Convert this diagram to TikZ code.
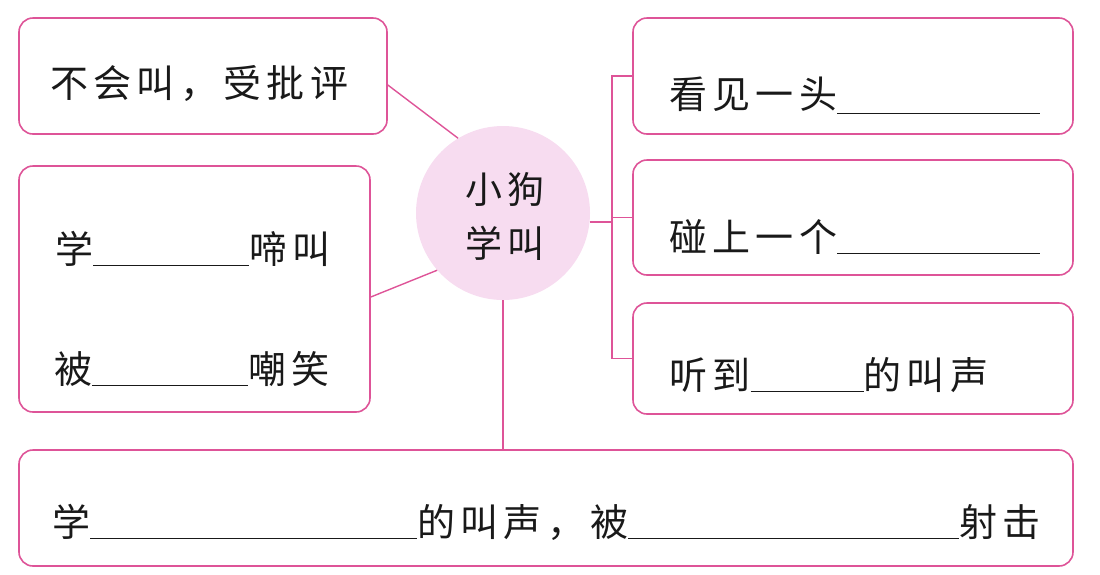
\documentclass[tikz,border=0pt]{standalone}
\usepackage{fontspec}
\newfontfamily\cjk[LetterSpace=14]{Noto Sans CJK SC}
\definecolor{pinkline}{RGB}{222,84,152}
\definecolor{pinkfill}{RGB}{247,220,240}
\definecolor{inkc}{RGB}{25,25,25}
\newcommand{\blk}[2]{\rule[#1]{#2}{1.2pt}}
\tikzset{
  box/.style={draw=pinkline, line width=1.6pt, rounded corners=14pt, inner sep=0pt},
  hub/.style={circle, fill=pinkfill, inner sep=0pt, minimum size=174pt},
  conn/.style={draw=pinkline, line width=1.4pt},
  txt/.style={anchor=base west, inner sep=0pt, text=inkc, font=\cjk\fontsize{38}{44}\selectfont},
  ctxt/.style={anchor=base, inner sep=0pt, text=inkc, font=\cjk\fontsize{37}{44}\selectfont}
}
\begin{document}
\begin{tikzpicture}[x=1pt, y=-1pt]
\useasboundingbox (0,0) rectangle (1100,574);
% boxes
\node[box, minimum width=368pt, minimum height=116pt] (a) at (203,76) {};
\node[box, minimum width=351pt, minimum height=246pt] (b) at (194.5,289) {};
\node[box, minimum width=440pt, minimum height=116pt] (r1) at (853,76) {};
\node[box, minimum width=440pt, minimum height=115pt] (r2) at (853,217.5) {};
\node[box, minimum width=440pt, minimum height=111pt] (r3) at (853,358.5) {};
\node[box, minimum width=1054pt, minimum height=116pt] (d) at (546,508) {};
\node[hub] (c) at (503,213) {};
% connectors
\coordinate (bx) at (612,0);
\coordinate (pa) at ([yshift=-9pt]a.east);
\coordinate (pb) at ([yshift=-8pt]b.east);
\draw[conn] (pa) -- (c.121);
\draw[conn] (pb) -- (c.221);
\draw[conn] (c.-6) -- (c.-6 -| bx);
\draw[conn] (r1.west) -- (r1.west -| bx) -- (r3.west -| bx) -- (r3.west);
\draw[conn] (r2.west) -- (r2.west -| bx);
\draw[conn] (c.south) -- (c.south |- d.north);
% texts
\node[ctxt] (tc1) at (505,203) {小狗};
\node[ctxt] (tc2) at (505,257) {学叫};
\node[txt] (ta) at (50,97) {不会叫，受批评};
\node[txt] (tb1) at (55,263) {学\blk{-3pt}{156pt}啼叫};
\node[txt] (tb2) at (54,383) {被\blk{-3pt}{156pt}嘲笑};
\node[txt] (tr1) at (669,108) {看见一头\blk{-6pt}{203pt}};
\node[txt] (tr2) at (669,251) {碰上一个\blk{-3pt}{203pt}};
\node[txt] (tr3) at (669,389) {听到\blk{-3pt}{113pt}的叫声};
\node[txt] (td) at (52,536) {学\blk{-3pt}{327pt}的叫声，被\blk{-3pt}{331pt}射击};
\end{tikzpicture}
\end{document}
